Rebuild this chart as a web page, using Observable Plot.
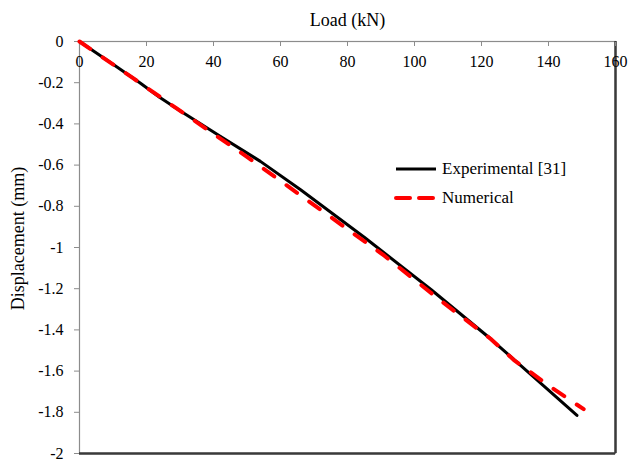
<!DOCTYPE html>
<html>
<head>
<meta charset="utf-8">
<script src="https://cdn.jsdelivr.net/npm/d3@7"></script>
<script src="https://cdn.jsdelivr.net/npm/@observablehq/plot@0.6"></script>
<style>
  html, body { margin: 0; padding: 0; background: #fff; }
  #wrap { position: relative; width: 629px; height: 461px; font-family: "Liberation Serif", "Times New Roman", serif; }
  #legend { position: absolute; left: 394px; top: 154px; font-size: 17px; color: #000; }
  .row { display: flex; align-items: center; height: 29px; }
  .row svg { margin-right: 4px; }
</style>
</head>
<body>
<div id="wrap"></div>
<script>
// Data
const expLoad = [0, 10, 18, 24, 30, 42, 54, 66, 85, 105, 122.7, 148.5];
const expDisp = [0, -0.11, -0.2, -0.272, -0.336, -0.46, -0.582, -0.72, -0.95, -1.205, -1.443, -1.815];
const numLoad = [0, 16, 29, 50, 63, 91, 108, 122.7, 129.6, 140, 150.5];
const numDisp = [0, -0.178, -0.325, -0.56, -0.712, -1.04, -1.26, -1.443, -1.545, -1.67, -1.785];
const xTicks = [0, 20, 40, 60, 80, 100, 120, 140, 160];
const yTicks = [0, -0.2, -0.4, -0.6, -0.8, -1, -1.2, -1.4, -1.6, -1.8, -2];
const yTickLabels = ["0", "-0.2", "-0.4", "-0.6", "-0.8", "-1", "-1.2", "-1.4", "-1.6", "-1.8", "-2"];
const seriesNames = ["Experimental [31]", "Numerical"];
const xTitle = "Load (kN)";
const yTitle = "Displacement (mm)";

const exp = expLoad.map((x, i) => ({x, y: expDisp[i]}));
const num = numLoad.map((x, i) => ({x, y: numDisp[i]}));

const font = '"Liberation Serif", "Times New Roman", serif';

const chart = Plot.plot({
  width: 629,
  height: 461,
  marginLeft: 79,
  marginTop: 41,
  marginRight: 14,
  marginBottom: 8,
  style: {fontFamily: font, fontSize: "16px", background: "#fff", color: "#000"},
  x: {domain: [0, 160]},
  y: {domain: [-2, 0]},
  marks: [
    Plot.frame({stroke: "#8c8c8c", strokeWidth: 1.2}),
    Plot.ruleX([160], {stroke: "#3a3a3a", strokeWidth: 2.5}),
    Plot.ruleY([-2], {stroke: "#3a3a3a", strokeWidth: 2.5}),
    Plot.axisY({ticks: yTicks, tickFormat: (d, i) => yTickLabels[i], tickSize: 5, tickPadding: 11, label: null, stroke: "#8c8c8c", fill: "#000", fontSize: 16}),
    Plot.axisX({anchor: "top", ticks: xTicks, tickSize: -4, tickFormat: () => "", label: null, stroke: "#8c8c8c"}),
    Plot.text(xTicks, {x: d => d, frameAnchor: "top", lineAnchor: "middle", dy: 20, text: d => String(d), fontSize: 16, fill: "#000"}),
    Plot.text([xTitle], {frameAnchor: "top", lineAnchor: "middle", textAnchor: "middle", dy: -21, text: d => d, fontSize: 18, fill: "#000"}),
    Plot.text([yTitle], {frameAnchor: "left", textAnchor: "middle", lineAnchor: "middle", dx: -61, dy: -9, rotate: -90, text: d => d, fontSize: 18, fill: "#000"}),
    Plot.line(exp, {x: "x", y: "y", stroke: "#000", strokeWidth: 3}),
    Plot.line(num, {x: "x", y: "y", stroke: "#ff0000", strokeWidth: 4, strokeDasharray: "13,15", strokeLinecap: "round"})
  ]
});

const wrap = document.getElementById("wrap");
wrap.appendChild(chart);

const legend = document.createElement("div");
legend.id = "legend";
const styles = [
  {stroke: "#000", width: 3, dash: null},
  {stroke: "#ff0000", width: 4, dash: "14,9"}
];
seriesNames.forEach((name, i) => {
  const row = document.createElement("div");
  row.className = "row";
  const s = styles[i];
  row.innerHTML = `<svg width="44" height="10"><line x1="2" y1="5" x2="42" y2="5" stroke="${s.stroke}" stroke-width="${s.width}" ${s.dash ? `stroke-dasharray="${s.dash}" stroke-linecap="round"` : ""}/></svg><span>${name}</span>`;
  legend.appendChild(row);
});
wrap.appendChild(legend);
</script>
</body>
</html>
